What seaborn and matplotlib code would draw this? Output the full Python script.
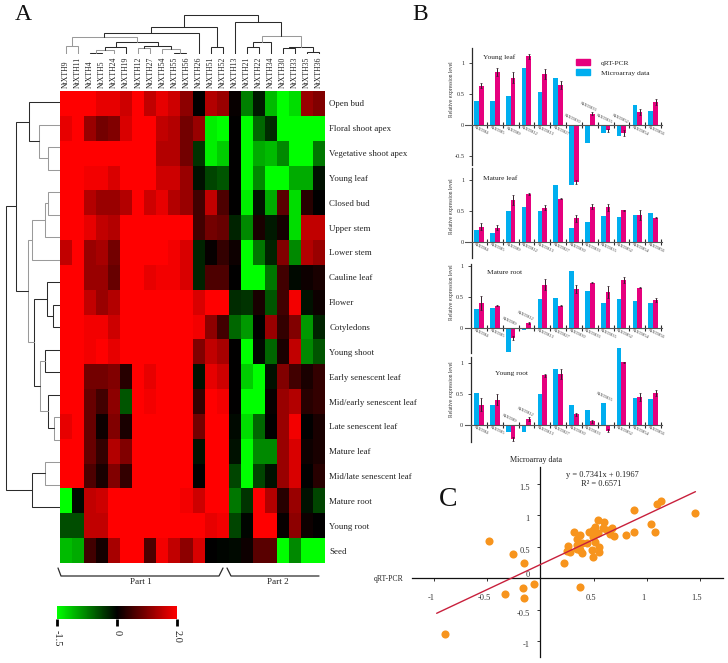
import numpy as np
import pandas as pd
import matplotlib
matplotlib.use('Agg')
import matplotlib.pyplot as plt
from matplotlib.colors import LinearSegmentedColormap, TwoSlopeNorm
from matplotlib.transforms import ScaledTranslation
import seaborn as sns

W, H = 728, 663

# Panel A - heatmap
GENES = ['NtXTH9', 'NtXTH11', 'NtXTH4', 'NtXTH5', 'NtXTH24', 'NtXTH19', 'NtXTH12', 'NtXTH27',
         'NtXTH54', 'NtXTH55', 'NtXTH56', 'NtXTH26', 'NtXTH51', 'NtXTH52', 'NtXTH13', 'NtXTH21',
         'NtXTH22', 'NtXTH34', 'NtXTH30', 'NtXTH33', 'NtXTH35', 'NtXTH36']
TISSUES = ['Open bud', 'Floral shoot apex', 'Vegetative shoot apex', 'Young leaf', 'Closed bud',
           'Upper stem', 'Lower stem', 'Cauline leaf', 'Flower', 'Cotyledons', 'Young shoot',
           'Early senescent leaf', 'Mid/early senescent leaf', 'Late senescent leaf', 'Mature leaf',
           'Mid/late senescent leaf', 'Mature root', 'Young root', 'Seed']
EXPRESSION = [
    [2, 2, 2, 1.8, 1.8, 1.6, 2, 1.5, 1.8, 1.6, 1.1, 0, 1.4, 1.2, 0.05, -0.75, -0.15, -1.1, -1.5, -1.3, 1.2, 1.0],
    [1.8, 2, 1.2, 0.9, 1.0, 1.7, 2, 2, 1.5, 1.4, 0.9, 1.2, -1.4, -1.5, 0, -1.5, -0.6, -0.25, -1.5, -1.5, -1.5, -1.5],
    [2, 2, 2, 2, 2, 2, 2, 2, 1.4, 1.4, 0.9, -0.3, -1.4, -1.2, 0, -1.5, -1.0, -1.1, -0.8, -1.5, -1.5, -0.7],
    [2, 2, 1.9, 1.9, 1.7, 2, 2, 2, 1.6, 1.6, 1.2, -0.1, -0.4, -0.5, 0, -1.5, -0.8, -1.5, -1.5, -1.0, -1.0, -0.1],
    [2, 2, 1.4, 1.2, 1.2, 1.4, 2, 1.6, 1.8, 1.4, 1.2, 0.5, 1.5, 0.6, 0, -1.4, -0.1, -1.0, 0.7, -1.3, 0.3, 0],
    [2, 2, 1.8, 1.5, 1.4, 2, 2, 2, 2, 2, 2, 0.5, 0.9, 0.8, -0.2, -0.8, 0.2, -0.15, 0.15, -1.3, 1.5, 1.5],
    [1.5, 2, 1.2, 1.3, 0.9, 2, 2, 2, 2, 1.9, 1.7, -0.2, 0.05, 0.4, 0.1, -1.5, -0.7, -0.2, 1.0, -0.8, 1.4, 1.2],
    [2, 2, 1.2, 1.2, 0.8, 2, 2, 1.8, 1.9, 1.9, 1.7, -0.2, 0.6, 0.6, 0, -1.5, -1.5, -0.7, 0.5, -0.05, 0.1, 0.2],
    [2, 2, 1.5, 1.2, 1.4, 2, 2, 2, 2, 2, 2, 1.7, 2, 2, -0.25, -0.3, 0.2, -0.5, 0.5, 1.9, -0.1, 0.1],
    [2, 2, 1.9, 1.9, 1.6, 2, 2, 2, 2, 2, 2, 1.9, 1.1, 0.5, -0.6, -0.9, 0, 1.2, 0.4, 1.0, -0.9, -0.2],
    [2, 2, 1.9, 2, 1.8, 2, 2, 2, 2, 2, 2, 1.0, 1.5, 1.3, 0, -1.5, -0.05, -0.6, 0.2, 1.5, -0.8, -0.5],
    [2, 2, 0.9, 0.9, 1.0, 0.3, 2, 1.8, 2, 2, 2, -0.1, 1.8, 1.6, 0, -1.2, -1.5, -0.1, 1.0, 0.5, 0.2, 0.4],
    [2, 2, 0.8, 0.5, 1.1, -0.5, 2, 1.9, 2, 2, 2, 0.4, 2, 1.9, 0, -1.5, -1.5, 0.05, 1.2, 1.4, 0.3, 0.4],
    [1.8, 2, 0.8, 0.1, 1.0, 0.2, 2, 2, 2, 2, 2, 0.9, 2, 2, -0.05, -1.3, -0.6, 0, 1.2, 1.9, 0, 0.2],
    [2, 2, 0.8, 0.4, 1.4, 1.0, 2, 2, 2, 2, 2, -0.1, 2, 2, -0.1, -1.5, -0.8, -0.8, 1.2, 1.7, 0.1, 0.2],
    [2, 2, 0.6, 0.2, 1.0, 0.4, 2, 2, 2, 2, 2, 0, 2, 2, -0.4, -1.5, -0.4, -0.1, 1.2, 1.7, 0, 0.3],
    [-1.5, -0.05, 1.5, 1.6, 2, 2, 2, 2, 2, 2, 1.9, 1.6, 2, 2, -0.7, -0.3, 2, 1.4, 0.3, 1.2, -0.1, -0.4],
    [-0.45, -0.45, 1.5, 1.5, 2, 2, 2, 2, 2, 2, 2, 2, 1.8, 1.9, -0.4, -0.03, 2, 2, 0.05, 1.1, 0.1, 0],
    [-1.1, -1.0, 0.5, 0.15, 1.3, 2, 2, 0.6, 1.9, 1.5, 1.1, 1.7, 0, -0.03, -0.05, 0.1, 0.7, 0.7, -1.5, -0.8, -1.5, -1.5],
]

# dendrograms as nested (left, right, height), leaves are row/column indices
COL_LEFT = ((0, 1, 8.3), ((((2, 3, 1.5), 4, 4), 5, 6.7), ((6, 7, 6.3), (8, (9, 10, 1.5), 4.7), 8), 12.3), 17.3)
COL_PART1 = ((COL_LEFT, 11, 20.7), (12, 13, 6.7), 27.3)
COL_PART2 = (14, (((15, 16, 6.7), 17, 11.7), ((18, 19, 5.7), (20, 21, 2.3), 7.3), 18), 32.3)
COL_TREE = (COL_PART1, COL_PART2, 39)

ROW_TOP = (0, (1, (2, 3, 11.6), 21), 30.7)
ROW_STEM = (((4, 5, 11.7), 6, 15), 7, 27.7)
ROW_SHOOT = (8, (9, 10, 7.3), 13.3)
ROW_SENESCENT = ((11, 12, 15.1), (13, (14, 15, 6), 11.8), 20)
ROW_MID = (ROW_STEM, (ROW_SHOOT, ROW_SENESCENT, 25.7), 31.7)
ROW_ROOT = ((16, 17, 15.2), 18, 27.6)
ROW_TREE = ((ROW_TOP, ROW_MID, 44.3), ROW_ROOT, 54.3)

LIGHT_COL = {8.3, 4, 6.3, 4.7, 17.3, 18}
LIGHT_ROW = {11.6, 21, 31.7, 15, 27.7, 20, 11.7, 6, 15.2}

COLORBAR_TICKS = [-1.5, 0, 2]
COLORBAR_LABELS = ['-1.5', '0', '2.0']

# Panel B - bars
QPCR_GENES = ['NtXTH4', 'NtXTH5', 'NtXTH9', 'NtXTH12', 'NtXTH13', 'NtXTH27',
              'NtXTH30', 'NtXTH33', 'NtXTH35', 'NtXTH52', 'NtXTH54', 'NtXTH56']

YOUNG_LEAF_ARRAY = [0.4, 0.4, 0.48, 0.92, 0.54, 0.76, -0.96, -0.29, -0.12, -0.17, 0.32, 0.23]
YOUNG_LEAF_QPCR = [0.64, 0.86, 0.77, 1.11, 0.83, 0.65, -0.92, 0.19, -0.08, -0.12, 0.21, 0.38]
YOUNG_LEAF_ERR = [0.04, 0.06, 0.09, 0.04, 0.08, 0.06, 0.03, 0.03, 0.02, 0.05, 0.05, 0.05]

MATURE_LEAF_ARRAY = [0.2, 0.15, 0.5, 0.57, 0.5, 0.92, 0.22, 0.32, 0.42, 0.41, 0.44, 0.47]
MATURE_LEAF_QPCR = [0.25, 0.23, 0.68, 0.77, 0.55, 0.7, 0.38, 0.57, 0.56, 0.51, 0.44, 0.39]
MATURE_LEAF_ERR = [0.05, 0.04, 0.08, 0.02, 0.04, 0.01, 0.06, 0.04, 0.06, 0.01, 0.08, 0.01]

MATURE_ROOT_ARRAY = [0.31, 0.33, -0.39, -0.03, 0.46, 0.49, 0.92, 0.59, 0.40, 0.46, 0.44, 0.40]
MATURE_ROOT_QPCR = [0.40, 0.36, -0.16, 0.08, 0.70, 0.36, 0.63, 0.73, 0.58, 0.77, 0.65, 0.45]
MATURE_ROOT_ERR = [0.11, 0.01, 0.03, 0.02, 0.09, 0.01, 0.06, 0.01, 0.1, 0.05, 0.01, 0.03]

YOUNG_ROOT_ARRAY = [0.51, 0.33, -0.12, -0.12, 0.5, 0.9, 0.33, 0.24, 0.35, 1.25, 0.44, 0.42]
YOUNG_ROOT_QPCR = [0.33, 0.41, -0.22, 0.10, 0.80, 0.82, 0.17, 0.06, -0.09, 1.01, 0.45, 0.51]
YOUNG_ROOT_ERR = [0.1, 0.09, 0.03, 0.03, 0.02, 0.08, 0.02, 0.02, 0.02, 0.01, 0.06, 0.05]

# Panel C - scatter
SCATTER_X = [-0.897, -0.48, -0.26, -0.15, -0.335, -0.166, -0.15, -0.06, 0.37, 0.223, 0.263, 0.248, 0.279,
             0.317, 0.348, 0.373, 0.342, 0.389, 0.367, 0.342, 0.373, 0.389, 0.442, 0.461, 0.486, 0.498,
             0.498, 0.514, 0.545, 0.599, 0.586, 0.545, 0.624, 0.671, 0.655, 0.693, 0.514, 0.555, 0.483,
             0.555, 0.492, 0.803, 0.881, 0.881, 1.041, 1.082, 1.1, 1.132, 1.458]
SCATTER_Y = [-0.896, 0.589, 0.376, 0.244, -0.249, -0.154, -0.318, -0.095, -0.143, 0.244, 0.514, 0.43, 0.419,
             0.726, 0.626, 0.684, 0.525, 0.551, 0.472, 0.456, 0.445, 0.392, 0.562, 0.726, 0.737, 0.657,
             0.764, 0.806, 0.923, 0.896, 0.79, 0.711, 0.764, 0.79, 0.695, 0.668, 0.578, 0.498, 0.445,
             0.419, 0.339, 0.689, 0.732, 1.076, 0.864, 0.737, 1.177, 1.225, 1.029]
FIT_X = [-0.975, 1.458]
FIT_Y = [-0.56, 1.373]
SCATTER_XTICKS = [-1, -0.5, 0.5, 1, 1.5]
SCATTER_YTICKS = [-1, -0.5, 0, 0.5, 1, 1.5]

PINK = '#e6007e'
CYAN = '#00aeef'
ORANGE = '#f7941d'
FIT_RED = '#c8203c'
DARK = '#2b2b2b'
LIGHT = '#9a9a9a'
SERIF = 'Liberation Serif'

sns.set_theme(style='white')
plt.rcParams['font.family'] = [SERIF, 'DejaVu Serif']

fig = plt.figure(figsize=(W / 100, H / 100), dpi=100)


def px_axes(left, right, top, bottom):
    ax = fig.add_axes([left / W, 1 - bottom / H, (right - left) / W, (bottom - top) / H])
    ax.patch.set_alpha(0)
    return ax


def draw_tree(ax, node, light, horizontal=False):
    # returns leaf position and height of the node
    if not isinstance(node, tuple):
        return node + 0.5, 0
    left, right, height = node
    p1, h1 = draw_tree(ax, left, light, horizontal)
    p2, h2 = draw_tree(ax, right, light, horizontal)
    pos = [p1, p1, p2, p2]
    hts = [h1, height, height, h2]
    color = LIGHT if height in light else DARK
    if horizontal:
        ax.plot(hts, pos, color=color, lw=0.75, solid_joinstyle='miter')
    else:
        ax.plot(pos, hts, color=color, lw=0.75, solid_joinstyle='miter')
    return (p1 + p2) / 2, height


# Heatmap
cmap = LinearSegmentedColormap.from_list('gbr', ['#00ff00', '#000000', '#ff0000'])
norm = TwoSlopeNorm(vmin=-1.5, vcenter=0, vmax=2)
heat_df = pd.DataFrame(EXPRESSION, index=TISSUES, columns=GENES)

ax_heat = px_axes(60, 325, 91, 563)
sns.heatmap(heat_df, ax=ax_heat, cmap=cmap, norm=norm, cbar=False, linewidths=0,
            xticklabels=True, yticklabels=True)
ax_heat.set_xlabel('')
ax_heat.set_ylabel('')
ax_heat.xaxis.tick_top()
ax_heat.yaxis.tick_right()
ax_heat.tick_params(axis='x', length=0, pad=2, labelsize=5.6, labelrotation=90, colors='#222222')
ax_heat.tick_params(axis='y', length=0, pad=3, labelsize=6.4, labelrotation=0, colors='#222222')

ax_top = px_axes(60, 325, 13, 54)
ax_top.set_xlim(0, len(GENES))
ax_top.set_ylim(0, 41)
ax_top.axis('off')
draw_tree(ax_top, COL_TREE, LIGHT_COL)

ax_left = px_axes(5, 60, 90.75, 518.25)
ax_left.set_xlim(55, 0)
ax_left.set_ylim(len(TISSUES), 0)
ax_left.axis('off')
draw_tree(ax_left, ROW_TREE, LIGHT_ROW, horizontal=True)

# Colorbar
ax_cbar = px_axes(57, 177, 606, 619)
cbar = fig.colorbar(ax_heat.collections[0], cax=ax_cbar, orientation='horizontal', ticks=COLORBAR_TICKS)
cbar.ax.set_xticklabels(COLORBAR_LABELS, rotation=270, fontsize=7.5, color='#222222')
cbar.ax.tick_params(axis='x', length=5, width=2, color='black', pad=3, bottom=True)
cbar.ax.minorticks_off()
cbar.outline.set_visible(False)

# Bars
PANELS = [
    ('Young leaf', YOUNG_LEAF_ARRAY, YOUNG_LEAF_QPCR, YOUNG_LEAF_ERR, 125.3, 472, 48, 165, [-0.5, 0, 0.5, 1], 483, 57),
    ('Mature leaf', MATURE_LEAF_ARRAY, MATURE_LEAF_QPCR, MATURE_LEAF_ERR, 242, 472, 168, 258, [0, 0.5, 1], 483, 179),
    ('Mature root', MATURE_ROOT_ARRAY, MATURE_ROOT_QPCR, MATURE_ROOT_ERR, 328, 471, 264, 353, [0, 0.5, 1], 487, 272),
    ('Young root', YOUNG_ROOT_ARRAY, YOUNG_ROOT_QPCR, YOUNG_ROOT_ERR, 425, 471, 357, 442, [0, 0.5, 1], 495, 373),
]
PX_PER_UNIT = 62
GROUP_PX = 15.83
FIRST_GROUP_PX = 479
LOW, HIGH = -1.05, 1.3

bar_axes = []
for title, array_vals, qpcr_vals, errs, zero_px, spine_px, spine_top, spine_bot, yticks, title_x, title_y in PANELS:
    df = pd.DataFrame({
        'gene': QPCR_GENES * 2,
        'value': array_vals + qpcr_vals,
        'kind': ['Microarray data'] * 12 + ['qRT-PCR'] * 12,
    })
    left_val = (spine_px - FIRST_GROUP_PX) / GROUP_PX
    right_val = (661.7 - FIRST_GROUP_PX) / GROUP_PX
    ax = px_axes(spine_px, 661.7, zero_px - HIGH * PX_PER_UNIT, zero_px - LOW * PX_PER_UNIT)
    bar_axes.append(ax)
    sns.barplot(data=df, x='gene', y='value', hue='kind', order=QPCR_GENES,
                hue_order=['Microarray data', 'qRT-PCR'], palette=[CYAN, PINK],
                saturation=1, width=0.6, gap=0, errorbar=None, legend=False, linewidth=0, ax=ax)
    xpos = np.arange(12) + 0.15
    ax.errorbar(xpos, qpcr_vals, yerr=errs, fmt='none', ecolor='#33202a', elinewidth=0.7, capsize=0.9, capthick=0.5)
    ax.set_xlim(left_val, right_val)
    ax.set_ylim(LOW, HIGH)
    ax.set_xlabel('')
    ax.set_ylabel('')

    sns.despine(ax=ax, top=True, right=True)
    ax.spines['bottom'].set_position(('data', 0))
    ax.spines['bottom'].set_bounds((465 - FIRST_GROUP_PX) / GROUP_PX, right_val)
    ax.spines['bottom'].set_color('#555555')
    ax.spines['bottom'].set_linewidth(0.8)
    ax.spines['left'].set_bounds((zero_px - spine_bot) / PX_PER_UNIT, (zero_px - spine_top) / PX_PER_UNIT)
    ax.spines['left'].set_color(DARK)
    ax.spines['left'].set_linewidth(0.9)

    ax.set_xticks(np.arange(12) + 0.5)
    ax.set_xticklabels([])
    ax.tick_params(axis='x', direction='inout', length=5, width=0.8, color=DARK, bottom=True)
    ax.set_yticks(yticks)
    ax.set_yticklabels([f'{t:g}' for t in yticks], fontsize=4.6, color='#333333')
    ax.tick_params(axis='y', direction='out', length=2.5, width=0.6, color=DARK, pad=3, left=True)

    for i, gene in enumerate(QPCR_GENES):
        low_val = min(array_vals[i], qpcr_vals[i])
        if low_val < 0:
            ax.text(i - 0.1, max(0, array_vals[i], qpcr_vals[i]) + 0.11, gene, rotation=-25,
                    ha='center', va='center', fontsize=3.2, color='#333333')
        else:
            ax.text(i + 0.18, -0.09, gene, rotation=-25, ha='center', va='center',
                    fontsize=3.2, color='#333333')

    ax.text(452 / W, 1 - (zero_px - 0.58 * PX_PER_UNIT) / H, 'Relative expression level', rotation=90,
            transform=fig.transFigure, ha='center', va='center', fontsize=4.0, color='#333333')
    ax.text(title_x / W, 1 - title_y / H, title, transform=fig.transFigure, ha='left', va='center',
            fontsize=5.3, color='#222222')

handles = [plt.Rectangle((0, 0), 1, 1, color=PINK), plt.Rectangle((0, 0), 1, 1, color=CYAN)]
bar_axes[0].legend(handles, ['qRT-PCR', 'Microarray data'], frameon=False, fontsize=5.4,
                   loc='upper left', bbox_to_anchor=(574 / W, 1 - 58 / H), bbox_transform=fig.transFigure,
                   borderpad=0.2, borderaxespad=0, handlelength=1.9, handleheight=0.85,
                   handletextpad=1.5, labelspacing=0.4, labelcolor='#222222')

# Scatter
ax_c = px_axes(412.3, 723.3, 466.7, 656.7)
sns.scatterplot(x=SCATTER_X, y=SCATTER_Y, color=ORANGE, s=34, linewidth=0, ax=ax_c, zorder=3)
sns.lineplot(x=FIT_X, y=FIT_Y, color=FIT_RED, linewidth=1.0, ax=ax_c, zorder=4, errorbar=None)
ax_c.set_xlim(-1.204, 1.72)
ax_c.set_ylim(-1.25, 1.77)
sns.despine(ax=ax_c, top=True, right=True)
for side in ['left', 'bottom']:
    ax_c.spines[side].set_position(('data', 0))
    ax_c.spines[side].set_color('#111111')
    ax_c.spines[side].set_linewidth(0.9)
ax_c.set_xticks(SCATTER_XTICKS)
ax_c.set_xticklabels([f'{t:g}' for t in SCATTER_XTICKS], fontsize=6, color='#333333')
ax_c.set_yticks(SCATTER_YTICKS)
ax_c.set_yticklabels([f'{t:g}' for t in SCATTER_YTICKS], fontsize=6, color='#333333')
ax_c.tick_params(axis='x', direction='out', length=2.5, width=0.7, pad=9, bottom=True, color='#333333')
ax_c.tick_params(axis='y', direction='out', length=2.5, width=0.7, pad=5, left=True, color='#333333')
px = 1 / 100
for label in ax_c.get_xticklabels():
    label.set_transform(label.get_transform() + ScaledTranslation(-3 * px, 0, fig.dpi_scale_trans))
for value, label in zip(SCATTER_YTICKS, ax_c.get_yticklabels()):
    dy = 4 if value == 0 else -3
    label.set_transform(label.get_transform() + ScaledTranslation(0, dy * px, fig.dpi_scale_trans))

# Annotations in pixel coordinates
canvas = fig.add_axes([0, 0, 1, 1])
canvas.set_xlim(0, W)
canvas.set_ylim(H, 0)
canvas.axis('off')
canvas.plot([58, 61, 219, 223], [568, 576, 576, 568], color=DARK, lw=0.9)
canvas.plot([227, 231, 319], [568, 576, 576], color=DARK, lw=0.9)
canvas.text(141, 582, 'Part 1', ha='center', va='center', fontsize=6.6, color='#222222')
canvas.text(278, 582, 'Part 2', ha='center', va='center', fontsize=6.6, color='#222222')
canvas.text(23, 15, 'A', ha='center', va='center', fontsize=17, color='#111111')
canvas.text(420, 15, 'B', ha='center', va='center', fontsize=17, color='#111111')
canvas.text(448, 499, 'C', ha='center', va='center', fontsize=20, color='#111111')
canvas.text(536, 460, 'Microarray data', ha='center', va='center', fontsize=5.9, color='#222222')
canvas.text(389, 579, 'qRT-PCR', ha='center', va='center', fontsize=5.6, color='#222222')
canvas.text(602, 475, 'y = 0.7341x + 0.1967', ha='center', va='center', fontsize=6, color='#222222')
canvas.text(601, 484, 'R\u00b2 = 0.6571', ha='center', va='center', fontsize=6, color='#222222')

fig.savefig('out.png', dpi=100)
